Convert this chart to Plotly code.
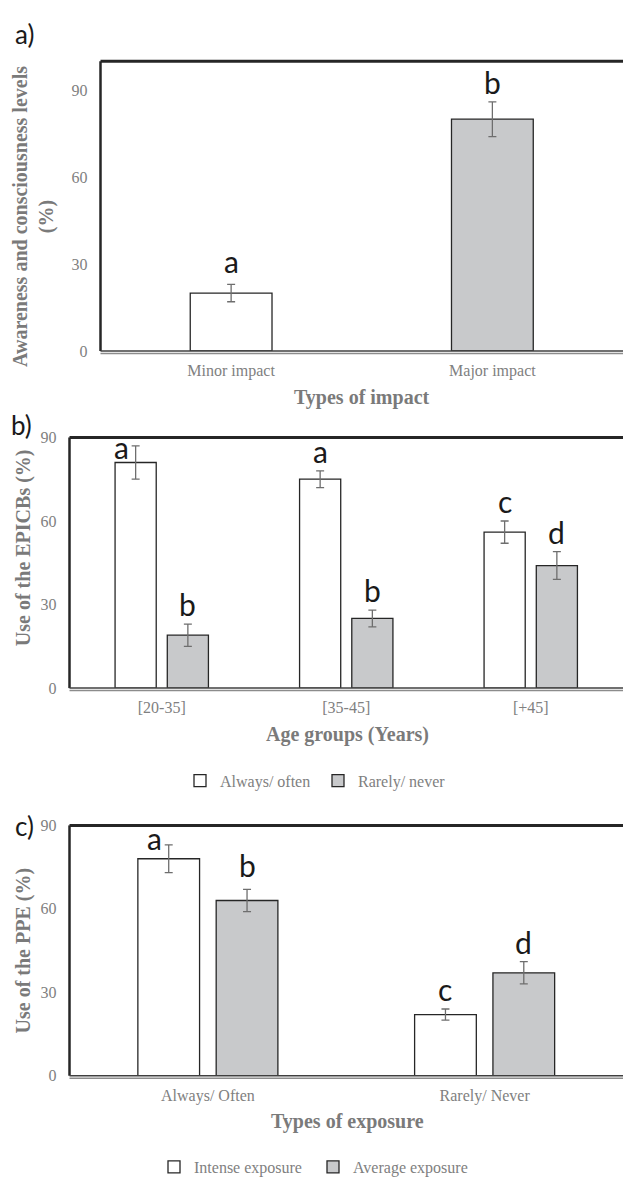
import plotly.graph_objects as go

# ---------------- data ----------------
impact_cats = ["Minor impact", "Major impact"]
impact_vals = [20, 80]
impact_err = [3, 6]
impact_letters = ["a", "b"]

age_cats = ["[20-35]", "[35-45]", "[+45]"]
always_vals = [81, 75, 56]
always_err = [6, 3, 4]
always_letters = ["a", "a", "c"]
rarely_vals = [19, 25, 44]
rarely_err = [4, 3, 5]
rarely_letters = ["b", "b", "d"]

exposure_cats = ["Always/ Often", "Rarely/ Never"]
intense_vals = [78, 22]
intense_err = [5, 2]
intense_letters = ["a", "c"]
average_vals = [63, 37]
average_err = [4, 4]
average_letters = ["b", "d"]

y_ticks_a = [0, 30, 60, 90]
y_ticks_bc = [0, 30, 60, 90]

# ---------------- style ----------------
SERIF = "Liberation Serif"
LETTER_FONT = "Lato"
TICK_COLOR = "#808080"
TITLE_COLOR = "#7a7a7a"
WHITE = "#ffffff"
GRAY = "#c8c9cb"
EDGE = "#262626"
ERR_COLOR = "#6e6e6e"
W, H = 623, 1184

def px_x(p):
    return p / W

def px_y(p):
    return 1 - p / H

fig = go.Figure()

def err(arr):
    return dict(type="data", array=arr, color=ERR_COLOR, thickness=1.3, width=4, visible=True)

# panel a
wa = 0.313
fig.add_trace(go.Bar(x=impact_cats, y=impact_vals, error_y=err(impact_err),
                     marker=dict(color=[WHITE, GRAY], line=dict(color=EDGE, width=1.3)),
                     width=wa, offset=-wa / 2, showlegend=False, xaxis="x", yaxis="y"))

# panel b
wb, gb = 0.223, 0.06
off1, off2 = -(wb + gb / 2), gb / 2
fig.add_trace(go.Bar(x=age_cats, y=always_vals, error_y=err(always_err), name="Always/ often",
                     marker=dict(color=WHITE, line=dict(color=EDGE, width=1.3)),
                     width=wb, offset=off1, xaxis="x2", yaxis="y2", legend="legend"))
fig.add_trace(go.Bar(x=age_cats, y=rarely_vals, error_y=err(rarely_err), name="Rarely/ never",
                     marker=dict(color=GRAY, line=dict(color=EDGE, width=1.3)),
                     width=wb, offset=off2, xaxis="x2", yaxis="y2", legend="legend"))

# panel c
fig.add_trace(go.Bar(x=exposure_cats, y=intense_vals, error_y=err(intense_err), name="Intense exposure",
                     marker=dict(color=WHITE, line=dict(color=EDGE, width=1.3)),
                     width=wb, offset=off1, xaxis="x3", yaxis="y3", legend="legend2"))
fig.add_trace(go.Bar(x=exposure_cats, y=average_vals, error_y=err(average_err), name="Average exposure",
                     marker=dict(color=GRAY, line=dict(color=EDGE, width=1.3)),
                     width=wb, offset=off2, xaxis="x3", yaxis="y3", legend="legend2"))

annotations = []
letter_font = dict(family=LETTER_FONT, size=30, color="#1a1a1a")

def add_letters(xref, yref, vals, errs, letters, centre_off, xshifts=None, yshifts=None):
    for i, (v, e, t) in enumerate(zip(vals, errs, letters)):
        annotations.append(dict(x=i + centre_off, y=v + e, xref=xref, yref=yref, text=t,
                                showarrow=False, yanchor="bottom", xanchor="center",
                                xshift=(xshifts[i] if xshifts else 0),
                                yshift=(yshifts[i] if yshifts else 0),
                                font=letter_font))

add_letters("x", "y", impact_vals, impact_err, impact_letters, 0, yshifts=[3, 0])
add_letters("x2", "y2", always_vals, always_err, always_letters, off1 + wb / 2,
            xshifts=[-14, 0, 0], yshifts=[-21, 0, 0])
add_letters("x2", "y2", rarely_vals, rarely_err, rarely_letters, off2 + wb / 2)
add_letters("x3", "y3", intense_vals, intense_err, intense_letters, off1 + wb / 2,
            xshifts=[-14, 0], yshifts=[-13, 0])
add_letters("x3", "y3", average_vals, average_err, average_letters, off2 + wb / 2, yshifts=[4, 0])

title_font = dict(family=SERIF, size=20, color=TITLE_COLOR)
# axis titles
annotations += [
    dict(x=px_x(34), y=px_y(212), xref="paper", yref="paper", text="<b>Awareness and consciousness levels<br>(%)</b>",
         textangle=-90, showarrow=False, xanchor="center", yanchor="middle", font=title_font),
    dict(x=px_x(362.5), y=px_y(395), xref="paper", yref="paper", text="<b>Types of impact</b>",
         showarrow=False, xanchor="center", yanchor="middle", font=title_font),
    dict(x=px_x(23.5), y=px_y(547.5), xref="paper", yref="paper", text="<b>Use of the EPICBs (%)</b>",
         textangle=-90, showarrow=False, xanchor="center", yanchor="middle", font=title_font),
    dict(x=px_x(347), y=px_y(736.7), xref="paper", yref="paper", text="<b>Age groups (Years)</b>",
         showarrow=False, xanchor="center", yanchor="middle", font=title_font),
    dict(x=px_x(23.5), y=px_y(956.7), xref="paper", yref="paper", text="<b>Use of the PPE (%)</b>",
         textangle=-90, showarrow=False, xanchor="center", yanchor="middle", font=title_font),
    dict(x=px_x(347), y=px_y(1130), xref="paper", yref="paper", text="<b>Types of exposure</b>",
         showarrow=False, xanchor="center", yanchor="middle", font=title_font),
]
# panel labels
panel_font = dict(family=LETTER_FONT, size=26, color="#1a1a1a")
for lbl, xp, yp in [("a)", 24, 26), ("b)", 21.5, 423.5), ("c)", 24, 830)]:
    annotations.append(dict(x=px_x(xp), y=px_y(yp), xref="paper", yref="paper", text=lbl,
                            showarrow=False, xanchor="center", yanchor="middle", font=panel_font))

shapes = []
for k in ["", "2", "3"]:
    xr, yr = f"x{k} domain", f"y{k} domain"
    shapes += [
        dict(type="line", xref=xr, yref=yr, x0=0, x1=1, y0=1, y1=1, line=dict(color=EDGE, width=3), layer="above"),
        dict(type="line", xref=xr, yref=yr, x0=0, x1=0, y0=0, y1=1, line=dict(color=EDGE, width=2.5), layer="above"),
        dict(type="line", xref=xr, yref=yr, x0=0, x1=1, y0=0, y1=0, line=dict(color="#404040", width=1.5), layer="above"),
        dict(type="line", xref=xr, yref=yr, x0=0, x1=1, ysizemode="pixel", yanchor=0, y0=-2.5, y1=-2.5,
             line=dict(color="#8c8c8c", width=1.5), layer="above"),
    ]

tick_font = dict(family=SERIF, size=16, color=TICK_COLOR)
def xax(domain, anchor):
    return dict(domain=domain, anchor=anchor, type="category", showgrid=False, zeroline=False,
                showline=False, ticks="", tickfont=tick_font, ticklabelstandoff=8, fixedrange=True)

def yax(domain, anchor, rng, ticks):
    return dict(domain=domain, anchor=anchor, range=rng, tickvals=ticks, showgrid=False, zeroline=False,
                showline=False, ticks="", tickfont=tick_font, ticklabelstandoff=12, fixedrange=True)

legend_font = dict(family=SERIF, size=16, color=TICK_COLOR)
n_a, n_b, n_c = len(impact_cats), len(age_cats), len(exposure_cats)
fig.update_layout(
    width=W, height=H, margin=dict(l=0, r=0, t=0, b=0),
    paper_bgcolor="white", plot_bgcolor="white",
    barmode="overlay",
    xaxis=dict(xax([px_x(100.5), 1], "y"), range=[-0.5, n_a - 0.5]),
    yaxis=yax([px_y(348), px_y(54)], "x", [0, 100], y_ticks_a),
    xaxis2=dict(xax([px_x(69.5), 1], "y2"), range=[-0.5, n_b - 0.5]),
    yaxis2=yax([px_y(690), px_y(435.7)], "x2", [0, 90], y_ticks_bc),
    xaxis3=dict(xax([px_x(69.5), 1], "y3"), range=[-0.5, n_c - 0.5]),
    yaxis3=yax([px_y(1083.3), px_y(829.3)], "x3", [0, 90], y_ticks_bc),
    legend=dict(orientation="h", x=px_x(180), y=px_y(784), xanchor="left", yanchor="middle",
                font=legend_font, itemwidth=30, entrywidth=93, bgcolor="rgba(0,0,0,0)"),
    legend2=dict(orientation="h", x=px_x(154), y=px_y(1176), xanchor="left", yanchor="middle",
                 font=legend_font, itemwidth=30, entrywidth=114, bgcolor="rgba(0,0,0,0)"),
    annotations=annotations,
    shapes=shapes,
)

fig.write_html("out.html", config={"displayModeBar": False},
               post_script="document.body.style.margin='0';document.body.style.padding='0';"
                           "document.body.style.overflow='hidden';")
